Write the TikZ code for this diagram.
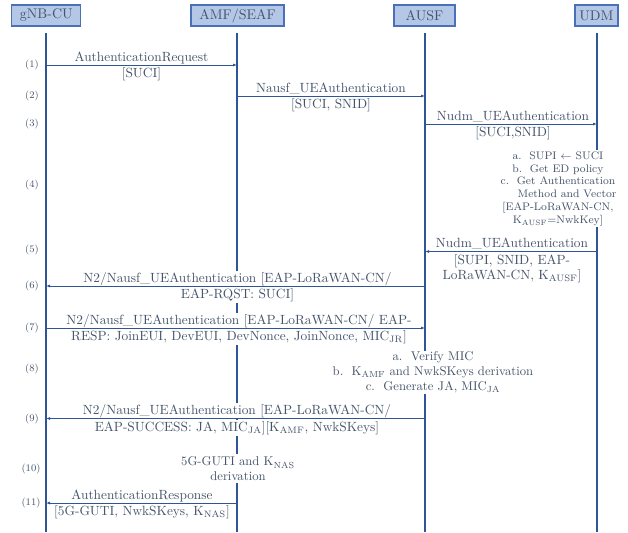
\documentclass[tikz,border=0pt]{standalone}
\usepackage{fontspec}
\usetikzlibrary{arrows.meta}
\definecolor{txt}{HTML}{44546A}
\definecolor{ln}{HTML}{2F5597}
\definecolor{boxfill}{HTML}{B4C7E7}
\definecolor{boxdraw}{HTML}{4A70B8}
\begin{document}
\begin{tikzpicture}[x=0.75pt,y=-0.75pt,
  hdr/.style={draw=boxdraw, fill=boxfill, line width=0.8pt, text=txt,
    font=\fontsize{10.5}{12}\selectfont, minimum height=15.75pt, inner sep=0pt},
  life/.style={draw=ln, line width=1.1pt},
  msgarrow/.style={draw=ln, line width=0.7pt, -{Latex[length=3pt,width=2.2pt]}},
  lbl/.style={fill=white, text=txt, font=\fontsize{10}{12}\selectfont, inner sep=1pt, anchor=base},
  steplbl/.style={text=txt, font=\fontsize{7.5}{9}\selectfont, inner sep=0pt},
  note/.style={fill=white, text=txt, align=center, inner sep=1pt, anchor=north}]
\useasboundingbox (0,0) rectangle (628,532);
% headers
\node[hdr, minimum width=51.75pt] (gnb) at (46.3,15.5) {gNB-CU};
\node[hdr, minimum width=69.75pt] (amf) at (237.5,15.5) {AMF/SEAF};
\node[hdr, minimum width=45.75pt] (ausf) at (424.5,15.5) {AUSF};
\node[hdr, minimum width=32.25pt] (udm) at (596.5,15.5) {UDM};
% lifelines
\coordinate (gT) at (46,33);  \coordinate (gB) at (46,532);
\coordinate (aT) at (237,33); \coordinate (aB) at (237,532);
\coordinate (uT) at (425,33); \coordinate (uB) at (425,532);
\coordinate (dT) at (597,33); \coordinate (dB) at (597,532);
\draw[life] (gT) -- (gB);
\draw[life] (aT) -- (aB);
\draw[life] (uT) -- (uB);
\draw[life] (dT) -- (dB);
% step labels
\node[steplbl] (s1) at (32,65) {(1)};
\node[steplbl] (s2) at (32,96) {(2)};
\node[steplbl] (s3) at (32,124) {(3)};
\node[steplbl] (s4) at (32,185) {(4)};
\node[steplbl] (s5) at (32,250) {(5)};
\node[steplbl] (s6) at (32,286) {(6)};
\node[steplbl] (s7) at (32,328) {(7)};
\node[steplbl] (s8) at (32,369) {(8)};
\node[steplbl] (s9) at (32,419) {(9)};
\node[steplbl] (s10) at (31,469) {(10)};
\node[steplbl] (s11) at (31,503) {(11)};
% message labels
\node[lbl] (t1a) at (141.5,61) {AuthenticationRequest};
\node[lbl] (t1b) at (141.5,77.5) {[SUCI]};
\node[lbl] (t2a) at (331,92) {Nausf\_UEAuthentication};
\node[lbl] (t2b) at (331,108.5) {[SUCI, SNID]};
\node[lbl] (t3a) at (513,120) {Nudm\_UEAuthentication};
\node[lbl] (t3b) at (513,136.5) {[SUCI,SNID]};
\node[note, font=\fontsize{8.2}{9.6}\selectfont] (n4) at (558,150)
  {a.~~SUPI $\leftarrow$ SUCI\\ b.~~Get ED policy\\ c.~~Get Authentication\\ \hspace*{13.5pt}Method and Vector\\ {[EAP-LoRaWAN-CN,}\\ K\textsubscript{AUSF}=NwkKey]};
\node[lbl] (t5a) at (512,247.5) {Nudm\_UEAuthentication};
\node[lbl] (t5b) at (512,264.5) {[SUPI, SNID, EAP-};
\node[lbl] (t5c) at (512,279.5) {LoRaWAN-CN, K\textsubscript{AUSF}]};
\node[lbl] (t6a) at (237.5,282) {N2/Nausf\_UEAuthentication [EAP-LoRaWAN-CN/};
\node[lbl] (t6b) at (237.5,298.5) {EAP-RQST: SUCI]};
\node[lbl] (t7a) at (239,324) {N2/Nausf\_UEAuthentication [EAP-LoRaWAN-CN/ EAP-};
\node[lbl] (t7b) at (239,340.5) {RESP: JoinEUI, DevEUI, DevNonce, JoinNonce, MIC\textsubscript{JR}]};
\node[note, font=\fontsize{9.5}{11.1}\selectfont] (n8) at (433,350.4)
  {a.~~Verify MIC\\ b.~~K\textsubscript{AMF} and NwkSKeys derivation\\ c.~~Generate JA, MIC\textsubscript{JA}};
\node[lbl] (t9a) at (237,414.5) {N2/Nausf\_UEAuthentication [EAP-LoRaWAN-CN/};
\node[lbl] (t9b) at (237,431) {EAP-SUCCESS: JA, MIC\textsubscript{JA}][K\textsubscript{AMF}, NwkSKeys]};
\node[note, font=\fontsize{9.5}{11}\selectfont, inner sep=2pt] (n10) at (238,454)
  {5G-GUTI and K\textsubscript{NAS}\\ derivation};
\node[lbl] (t11a) at (142,499) {AuthenticationResponse};
\node[lbl] (t11b) at (142,515.5) {[5G-GUTI, NwkSKeys, K\textsubscript{NAS}]};
% arrow end points
\coordinate (m1s) at (46,65);   \coordinate (m1e) at (237,65);
\coordinate (m2s) at (237,96);  \coordinate (m2e) at (425,96);
\coordinate (m3s) at (425,124); \coordinate (m3e) at (597,124);
\coordinate (m5s) at (597,251.5); \coordinate (m5e) at (425,251.5);
\coordinate (m6s) at (425,286); \coordinate (m6e) at (46,286);
\coordinate (m7s) at (46,328);  \coordinate (m7e) at (425,328);
\coordinate (m9s) at (425,418.5); \coordinate (m9e) at (46,418.5);
\coordinate (m11s) at (237,503); \coordinate (m11e) at (46,503);
\draw[msgarrow] (m1s) -- (m1e);
\draw[msgarrow] (m2s) -- (m2e);
\draw[msgarrow] (m3s) -- (m3e);
\draw[msgarrow] (m5s) -- (m5e);
\draw[msgarrow] (m6s) -- (m6e);
\draw[msgarrow] (m7s) -- (m7e);
\draw[msgarrow] (m9s) -- (m9e);
\draw[msgarrow] (m11s) -- (m11e);
\end{tikzpicture}
\end{document}
